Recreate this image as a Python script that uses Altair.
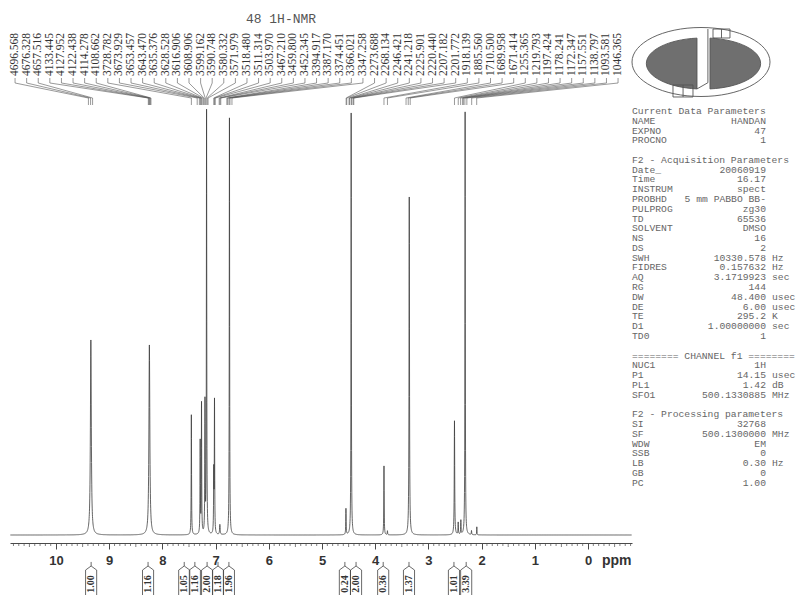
import numpy as np
import pandas as pd
import altair as alt

SF_MHZ = 500.13

# Peak-picking list (Hz) printed above the spectrum
peak_hz = ["4696.568", "4676.328", "4657.516", "4133.445", "4127.952", "4122.438", "4114.278",
           "4108.662", "3728.782", "3673.929", "3653.457", "3643.470", "3635.376", "3628.528",
           "3616.906", "3608.906", "3599.162", "3590.748", "3580.332", "3571.979", "3518.480",
           "3511.314", "3503.970", "3467.210", "3459.800", "3452.345", "3394.917", "3387.170",
           "3374.451", "3366.021", "3347.258", "2273.688", "2268.134", "2246.421", "2241.218",
           "2225.901", "2220.440", "2207.182", "2201.772", "1918.139", "1885.560", "1710.500",
           "1689.958", "1671.414", "1255.365", "1219.793", "1197.424", "1178.241", "1172.347",
           "1157.551", "1138.797", "1093.581", "1046.365"]

# Resolved lines of the 1H spectrum: shift (ppm), height, half width (ppm)
line_ppm = [9.345, 8.245, 7.456, 7.29, 7.265, 7.20, 7.17, 7.035, 7.021, 6.92, 6.74,
            4.55, 4.452, 3.835, 3.77, 3.36, 2.51, 2.44, 2.39, 2.31, 2.19, 2.09]
line_height = [195, 190, 120, 92, 130, 130, 423, 60, 132, 10, 417,
               26, 422, 69, 4, 338, 114, 12, 14, 423, 4, 8]
line_width = [0.010, 0.010, 0.004, 0.004, 0.004, 0.004, 0.004, 0.004, 0.004, 0.006, 0.004,
              0.004, 0.004, 0.004, 0.004, 0.005, 0.005, 0.004, 0.004, 0.004, 0.004, 0.003]

# Integrals printed under the ppm axis
integral_text = ["1.00", "1.16", "1.05", "1.16", "2.00", "1.18", "1.96",
                 "0.24", "2.00", "0.36", "1.37", "1.01", "3.39"]
integral_ppm = [9.34, 8.27, 7.59, 7.39, 7.16, 6.955, 6.75,
                4.57, 4.36, 3.85, 3.365, 2.52, 2.29]

# Acquisition / processing parameter block
param_label = ["Current Data Parameters", "NAME", "EXPNO", "PROCNO", "",
               "F2 - Acquisition Parameters", "Date_", "Time", "INSTRUM", "PROBHD", "PULPROG",
               "TD", "SOLVENT", "NS", "DS", "SWH", "FIDRES", "AQ", "RG", "DW", "DE", "TE", "D1",
               "TD0", "", "======== CHANNEL f1 ========", "NUC1", "P1", "PL1", "SFO1", "",
               "F2 - Processing parameters", "SI", "SF", "WDW", "SSB", "LB", "GB", "PC"]
param_value = ["", "HANDAN", "47", "1", "",
               "", "20060919", "16.17", "spect", "5 mm PABBO BB-", "zg30",
               "65536", "DMSO", "16", "2", "10330.578", "0.157632", "3.1719923", "144", "48.400",
               "6.00", "295.2", "1.00000000", "1", "", "", "1H", "14.15", "1.42", "500.1330885", "",
               "", "32768", "500.1300000", "EM", "0", "0.30", "0", "1.00"]
param_unit = ["", "", "", "", "",
              "", "", "", "", "", "",
              "", "", "", "", "Hz", "Hz", "sec", "", "usec", "usec", "K", "sec",
              "", "", "", "", "usec", "dB", "MHz", "",
              "", "", "MHz", "", "", "Hz", "", ""]

# ---------------------------------------------------------------- layout
PLOT_W, PLOT_H = 622, 543
BASE = 535                      # baseline row inside the plot frame
X_DOMAIN = [10.865, -0.827]     # ppm, reversed axis
xscale = alt.Scale(domain=X_DOMAIN, nice=False, zero=False)
yscale = alt.Scale(domain=[-(PLOT_H - BASE), BASE], nice=False, zero=False)


def lvl(row):
    """Vertical level (in intensity units) of a given row of the figure."""
    return BASE - row


INK = "#4a4a4a"
SERIF = "Liberation Serif"
MONO = "Liberation Mono"
SANS = "Liberation Sans"

# ---------------------------------------------------------------- spectrum
grid = np.union1d(np.round(np.arange(-0.82, 10.86, 0.002), 4), np.array(line_ppm))
inten = np.zeros_like(grid)
for p, h, w in zip(line_ppm, line_height, line_width):
    inten += h * w ** 2 / ((grid - p) ** 2 + w ** 2)
spec = pd.DataFrame({"ppm": grid, "I": inten})

spectrum = alt.Chart(spec).mark_line(color="#3c3c3c", strokeWidth=0.8, strokeJoin="round").encode(
    x=alt.X("ppm:Q", scale=xscale,
            axis=alt.Axis(values=list(range(0, 11)), format="d", tickSize=6, tickColor=INK,
                          domainColor=INK, labelFont=SANS, labelFontWeight="bold",
                          labelFontSize=13, labelColor="#333", labelPadding=5,
                          grid=False, title=None, labelFlush=False)),
    y=alt.Y("I:Q", scale=yscale, axis=None),
)

# minor ticks of the ppm axis
minor = np.round(np.arange(-0.8, 10.81, 0.1), 1)
minor = minor[np.abs(minor - np.round(minor)) > 1e-6]
ticks = pd.DataFrame({"ppm": minor,
                      "y": lvl(543),
                      "y2": [lvl(547) if abs(v * 2 - round(v * 2)) < 1e-6 else lvl(546) for v in minor]})
minor_ticks = alt.Chart(ticks).mark_rule(color=INK, strokeWidth=0.7).encode(
    x=alt.X("ppm:Q", scale=xscale), y=alt.Y("y:Q", scale=yscale), y2="y2:Q")

ppm_label = alt.Chart(pd.DataFrame({"t": ["ppm"]})).mark_text(
    font=SANS, fontWeight="bold", fontSize=14, color="#333", align="left", baseline="middle"
).encode(text="t:N", x=alt.value(592), y=alt.value(561))

# ---------------------------------------------------------------- peak labels
n = len(peak_hz)
lab_ppm = np.linspace(10.77, -0.565, n)
peak_pos = [float(h) / SF_MHZ for h in peak_hz]
labels = pd.DataFrame({"txt": peak_hz, "ppm": lab_ppm, "y": lvl(76)})
peak_labels = alt.Chart(labels).mark_text(
    font=SERIF, fontSize=11.5, color="#333", angle=270, align="left", baseline="middle"
).encode(x=alt.X("ppm:Q", scale=xscale), y=alt.Y("y:Q", scale=yscale), text="txt:N")

rows = []
for i, (lp, pp) in enumerate(zip(lab_ppm, peak_pos)):
    for k, (xx, yy) in enumerate([(lp, 78), (lp, 83), (pp, 98), (pp, 105)]):
        rows.append({"id": i, "k": k, "ppm": xx, "y": lvl(yy)})
leaders = alt.Chart(pd.DataFrame(rows)).mark_line(color="#555", strokeWidth=0.6).encode(
    x=alt.X("ppm:Q", scale=xscale), y=alt.Y("y:Q", scale=yscale),
    detail="id:N", order="k:Q")

title = alt.Chart(pd.DataFrame({"t": ["48 1H-NMR"]})).mark_text(
    font=MONO, fontSize=13, color="#555", align="center", baseline="middle"
).encode(text="t:N", x=alt.value(271), y=alt.value(19))

# ---------------------------------------------------------------- integrals
BOX = "M 0 -1.27 L 0 -1 L 0.37 -0.73 L 0.37 1.1 M -0.37 1.1 L -0.37 -0.73 L 0 -1"
integ = pd.DataFrame({"ppm": integral_ppm, "txt": integral_text,
                      "yb": lvl(581), "yt": lvl(584)})
integ_boxes = alt.Chart(integ).mark_point(
    shape=BOX, size=900, filled=False, color="#444", strokeWidth=0.8, opacity=1
).encode(x=alt.X("ppm:Q", scale=xscale), y=alt.Y("yb:Q", scale=yscale))
integ_text = alt.Chart(integ).mark_text(
    font=SERIF, fontSize=10, fontWeight="bold", color="#333", angle=270,
    align="center", baseline="middle"
).encode(x=alt.X("ppm:Q", scale=xscale), y=alt.Y("yt:Q", scale=yscale), text="txt:N")

# ---------------------------------------------------------------- parameter block
LINE = 9.78
params = pd.DataFrame({"label": param_label, "value": param_value, "unit": param_unit,
                       "y": [lvl(111 + LINE * i) for i in range(len(param_label))]})
ptext = dict(font=MONO, fontSize=9.7, color="#666", baseline="middle")
p_label = alt.Chart(params).mark_text(align="left", **ptext).encode(
    x=alt.value(622), y=alt.Y("y:Q", scale=yscale), text="label:N")
p_value = alt.Chart(params).mark_text(align="right", **ptext).encode(
    x=alt.value(756), y=alt.Y("y:Q", scale=yscale), text="value:N")
p_unit = alt.Chart(params).mark_text(align="left", **ptext).encode(
    x=alt.value(762), y=alt.Y("y:Q", scale=yscale), text="unit:N")

# ---------------------------------------------------------------- instrument logo
LOGO_X, LOGO_Y, LOGO_SIZE = 691, 62, 138 ** 2
OUTER = "M -1 0 A 1 0.5 0 1 1 1 0 A 1 0.5 0 1 1 -1 0 Z"
LEFT = "M -0.058 -0.346 A 0.819 0.37 0 0 0 -0.058 0.39 Z"
RIGHT = "M 0.13 -0.346 A 0.819 0.37 0 0 1 0.13 0.39 Z"
NOTCH = ("M 0.174 -0.478 L 0.42 -0.478 L 0.42 -0.348 L 0.174 -0.348 Z M 0.297 -0.478 L 0.297 -0.348 "
         "M -0.406 0.333 L -0.116 0.333 L -0.116 0.507 L -0.406 0.507 Z M -0.26 0.333 L -0.26 0.507 "
         "M 0.1 -0.478 L 0.1 0.3 L -0.058 0.39")
one = pd.DataFrame({"k": [0]})


def logo_part(shape, filled, fill="#6f6f6f"):
    kw = dict(shape=shape, size=LOGO_SIZE, filled=filled, opacity=1, strokeWidth=0.9)
    if filled:
        kw.update(fill=fill, stroke="#555", fillOpacity=1)
    else:
        kw.update(color="#555")
    return alt.Chart(one).mark_point(**kw).encode(x=alt.value(LOGO_X), y=alt.value(LOGO_Y))


logo = logo_part(OUTER, False) + logo_part(LEFT, True) + logo_part(RIGHT, True) + logo_part(NOTCH, False)

chart = alt.layer(
    spectrum, minor_ticks, ppm_label, leaders, peak_labels, title,
    integ_boxes, integ_text, p_label, p_value, p_unit, logo
).properties(
    width=PLOT_W, height=PLOT_H,
    padding={"left": 10, "top": 0, "right": 164, "bottom": 52},
    autosize=alt.AutoSizeParams(type="none"),
    background="white",
).configure_view(stroke=None)

chart.save("out.html", embed_options={"renderer": "svg", "actions": False})
